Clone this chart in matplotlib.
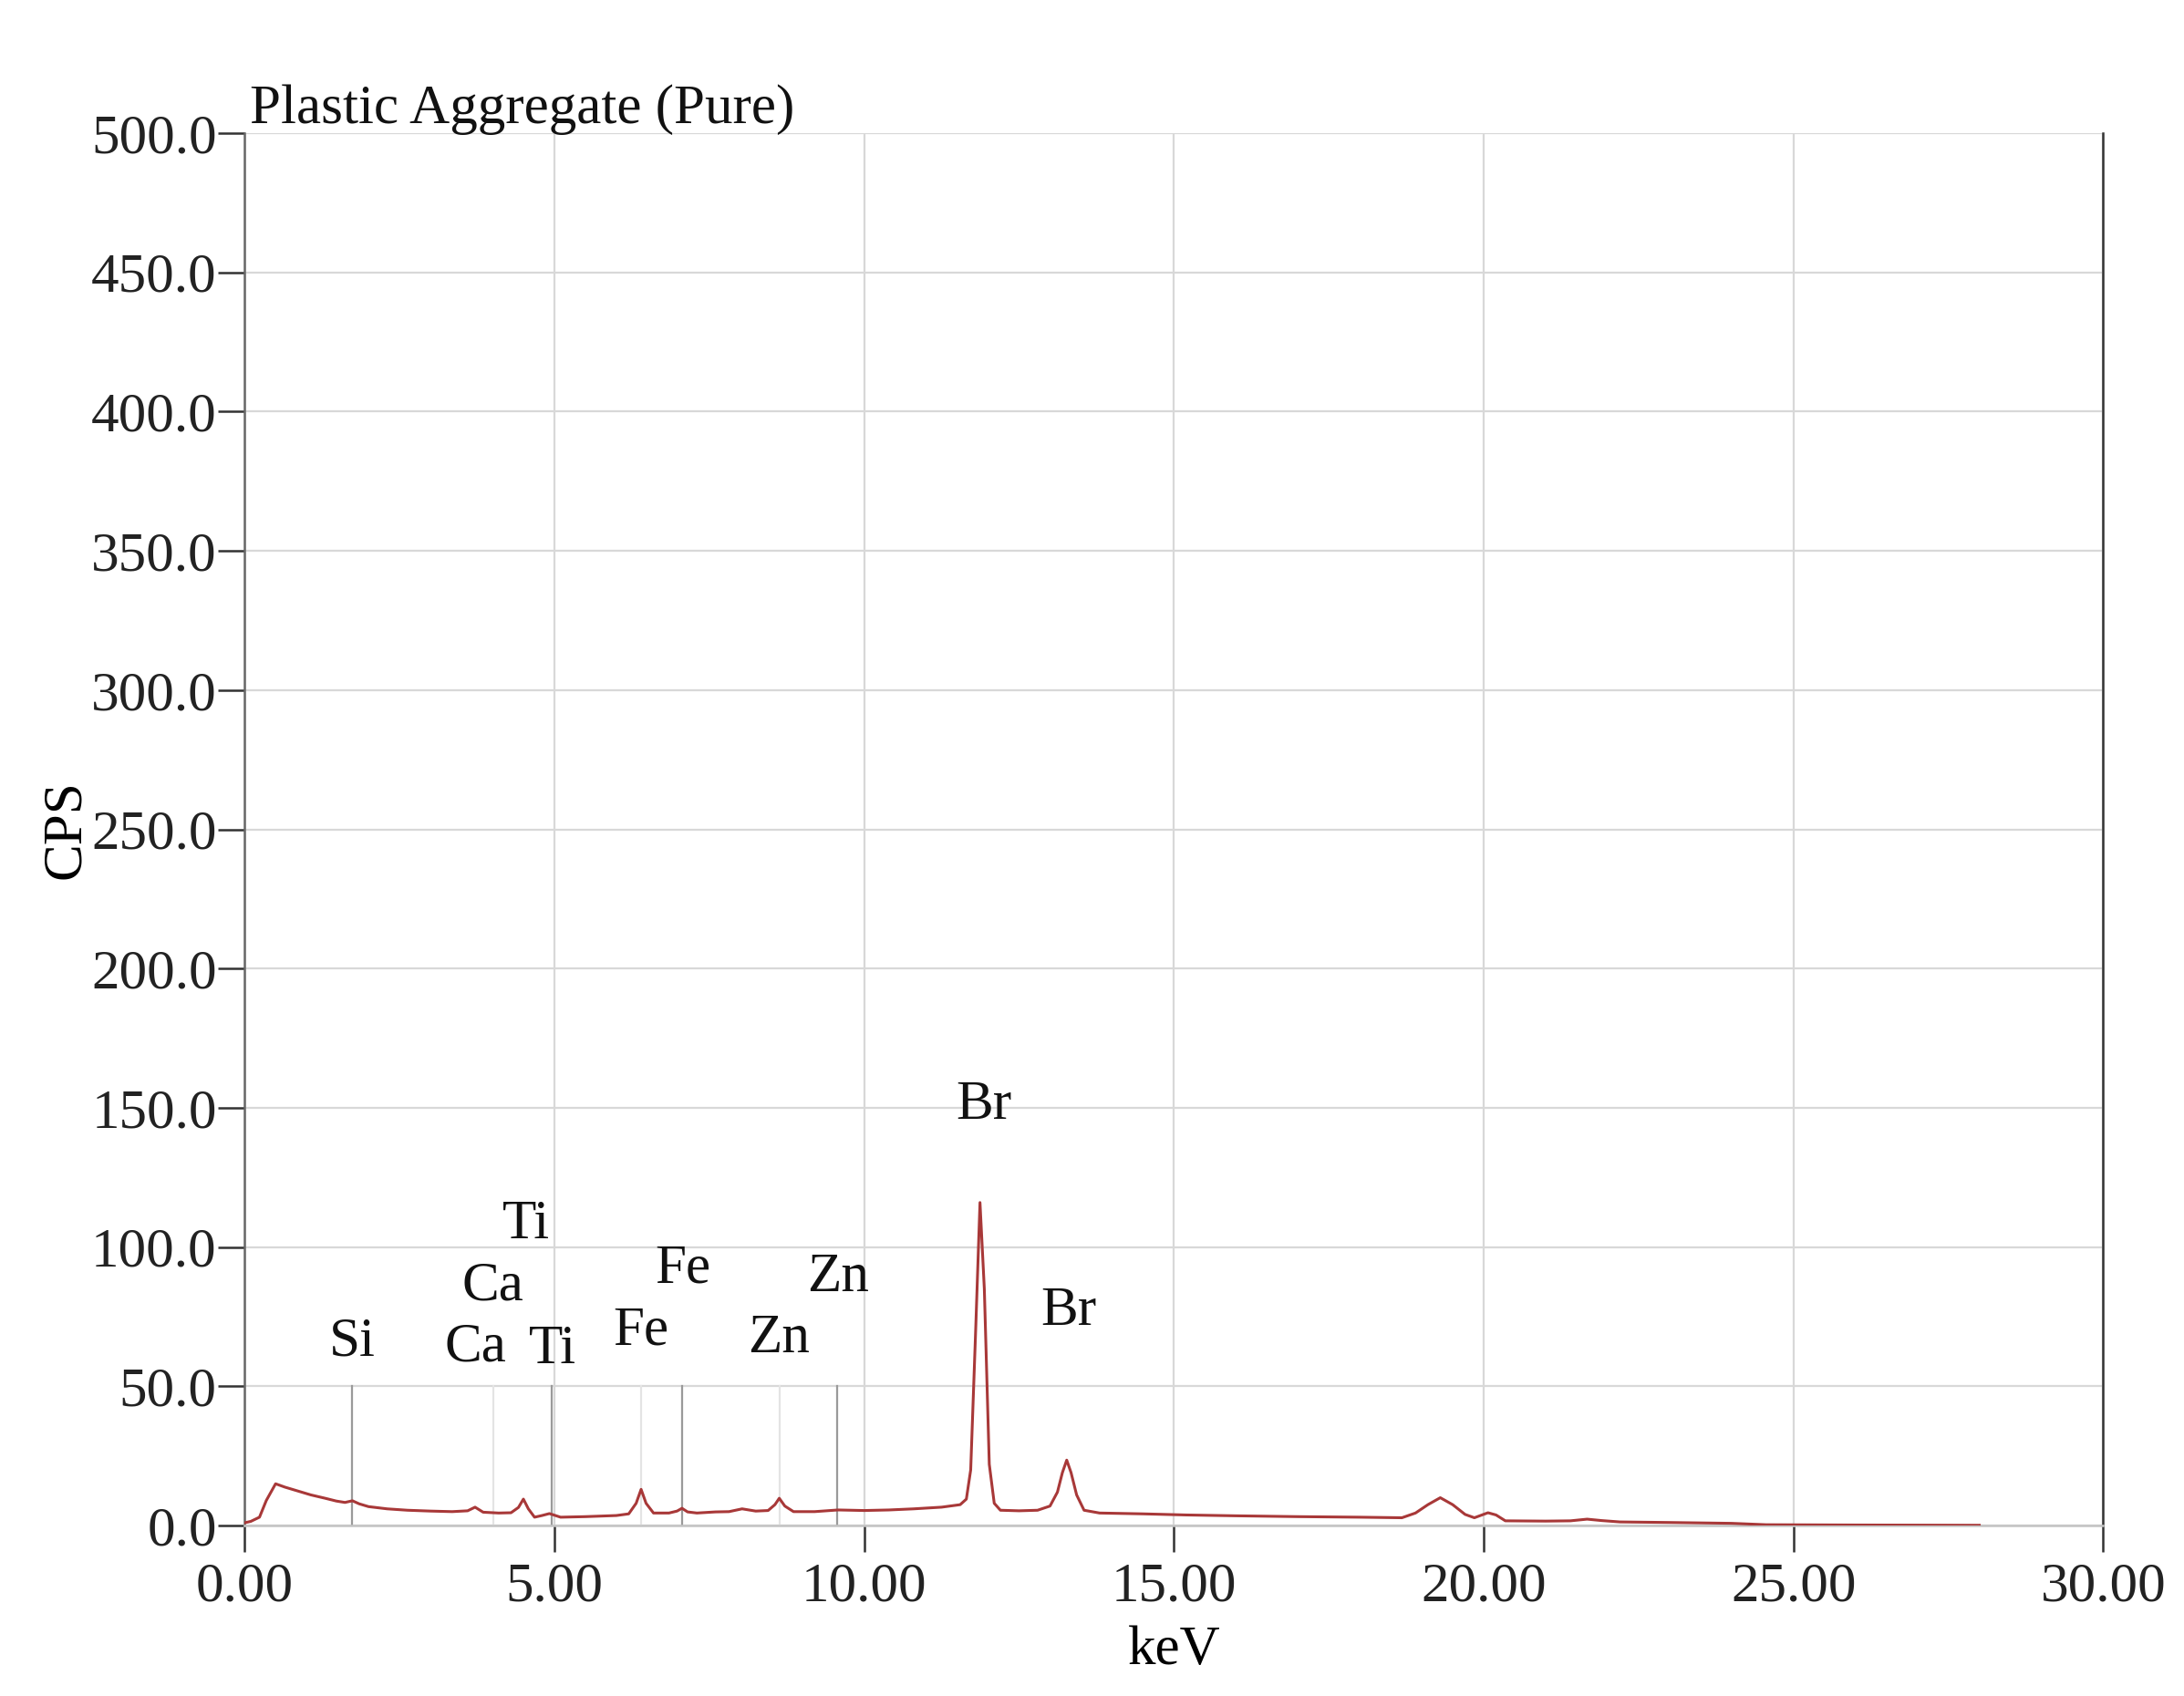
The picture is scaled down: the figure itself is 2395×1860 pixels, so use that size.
import matplotlib
matplotlib.use("Agg")
import matplotlib.pyplot as plt
import matplotlib.ticker as mticker

# spectrum (keV, counts per second)
energy = [0.00, 0.10, 0.24, 0.35, 0.50, 0.65, 0.80, 1.07, 1.30, 1.48,
          1.62, 1.74, 1.85, 2.00, 2.30, 2.63, 3.00, 3.35, 3.60, 3.72,
          3.85, 4.10, 4.30, 4.42, 4.50, 4.58, 4.68, 4.80, 4.92, 5.10,
          5.50, 6.00, 6.20, 6.32, 6.40, 6.48, 6.60, 6.85, 6.98, 7.06,
          7.15, 7.30, 7.60, 7.82, 8.03, 8.25, 8.45, 8.56, 8.63, 8.72,
          8.86, 9.20, 9.58, 10.00, 10.40, 10.80, 11.25, 11.55, 11.65, 11.72,
          11.80, 11.87, 11.94, 12.02, 12.10, 12.20, 12.50, 12.80, 13.00, 13.12,
          13.20, 13.27, 13.34, 13.43, 13.55, 13.80, 14.50, 15.20, 16.00, 17.00,
          18.00, 18.68, 18.90, 19.10, 19.30, 19.50, 19.70, 19.85, 20.07, 20.20,
          20.35, 21.00, 21.40, 21.67, 21.90, 22.20, 23.00, 24.00, 24.56, 26.00,
          28.00]
cps = [1.0, 1.5, 3.0, 9.0, 15.0, 13.8, 12.8, 11.0, 9.8, 8.8,
       8.3, 8.9, 7.8, 6.8, 6.0, 5.5, 5.2, 5.0, 5.3, 6.6,
       4.8, 4.5, 4.6, 6.5, 9.5, 6.0, 3.0, 3.6, 4.3, 3.0,
       3.2, 3.6, 4.2, 8.0, 13.0, 8.0, 4.5, 4.5, 5.2, 6.2,
       4.9, 4.5, 4.9, 5.0, 6.0, 5.2, 5.4, 7.5, 9.8, 7.0,
       5.0, 5.0, 5.6, 5.4, 5.6, 6.0, 6.6, 7.5, 9.5, 20.0,
       70.0, 116.0, 85.0, 22.0, 8.0, 5.5, 5.3, 5.5, 7.0, 12.0,
       19.0, 23.5, 19.0, 11.0, 5.5, 4.5, 4.2, 3.8, 3.5, 3.2,
       3.0, 2.8, 4.5, 7.5, 10.0, 7.5, 4.0, 2.8, 4.6, 3.8,
       1.7, 1.6, 1.7, 2.3, 1.8, 1.3, 1.1, 0.8, 0.3, 0.2,
       0.1]

# element labels
elements = ["Si", "Ca", "Ca", "Ti", "Ti", "Fe", "Fe", "Zn", "Zn", "Br", "Br"]
label_kev = [1.74, 3.72, 4.00, 4.54, 4.97, 6.40, 7.07, 8.63, 9.58, 11.93, 13.30]
label_cps = [66, 64, 86, 108, 63, 70, 92, 67, 89, 151, 77]

# marker lines for the identified lines
marker_kev = [1.74, 4.01, 4.95, 6.40, 7.06, 8.64, 9.57]
marker_strong = [True, False, True, False, True, False, True]
marker_top = 50

plt.rcParams["font.family"] = ["Liberation Serif", "DejaVu Serif"]

fig = plt.figure(figsize=(23.95, 18.6), dpi=100)
ax = fig.add_axes([0.112, 0.1005, 0.851, 0.821])

for x, strong in zip(marker_kev, marker_strong):
    ax.plot([x, x], [0, marker_top], color="#9a9a9a" if strong else "#e4e4e4",
            lw=1.6, zorder=2)

ax.plot(energy, cps, color="#a83838", lw=2.2, zorder=3)

for t, x, y in zip(elements, label_kev, label_cps):
    ax.text(x, y, t, ha="center", va="center", fontsize=44, color="#111111",
            zorder=4)

ax.set_xlim(0, 30)
ax.set_ylim(0, 500)
ax.xaxis.set_major_locator(mticker.MultipleLocator(5))
ax.yaxis.set_major_locator(mticker.MultipleLocator(50))
ax.xaxis.set_major_formatter(mticker.FormatStrFormatter("%.2f"))
ax.yaxis.set_major_formatter(mticker.FormatStrFormatter("%.1f"))
ax.grid(True, color="#d8d8d8", lw=1.6, zorder=0)
ax.set_axisbelow(True)

ax.spines["top"].set_visible(False)
ax.spines["left"].set_color("#666666")
ax.spines["right"].set_color("#333333")
ax.spines["bottom"].set_color("#c4c4c4")
for s in ["left", "right", "bottom"]:
    ax.spines[s].set_linewidth(1.8)

ax.tick_params(axis="both", direction="out", length=21, width=1.8,
               color="#333333", labelsize=44, colors="#222222")
ax.tick_params(axis="y", pad=1)
ax.tick_params(axis="x", pad=8)

ax.set_xlabel("keV", fontsize=44, labelpad=10)
ax.set_ylabel("CPS", fontsize=44, labelpad=0)

ax.text(0.003, 1.007, "Plastic Aggregate (Pure)", transform=ax.transAxes,
        ha="left", va="baseline", fontsize=44, color="#111111")

fig.savefig("out.png", dpi=100, facecolor="white")
